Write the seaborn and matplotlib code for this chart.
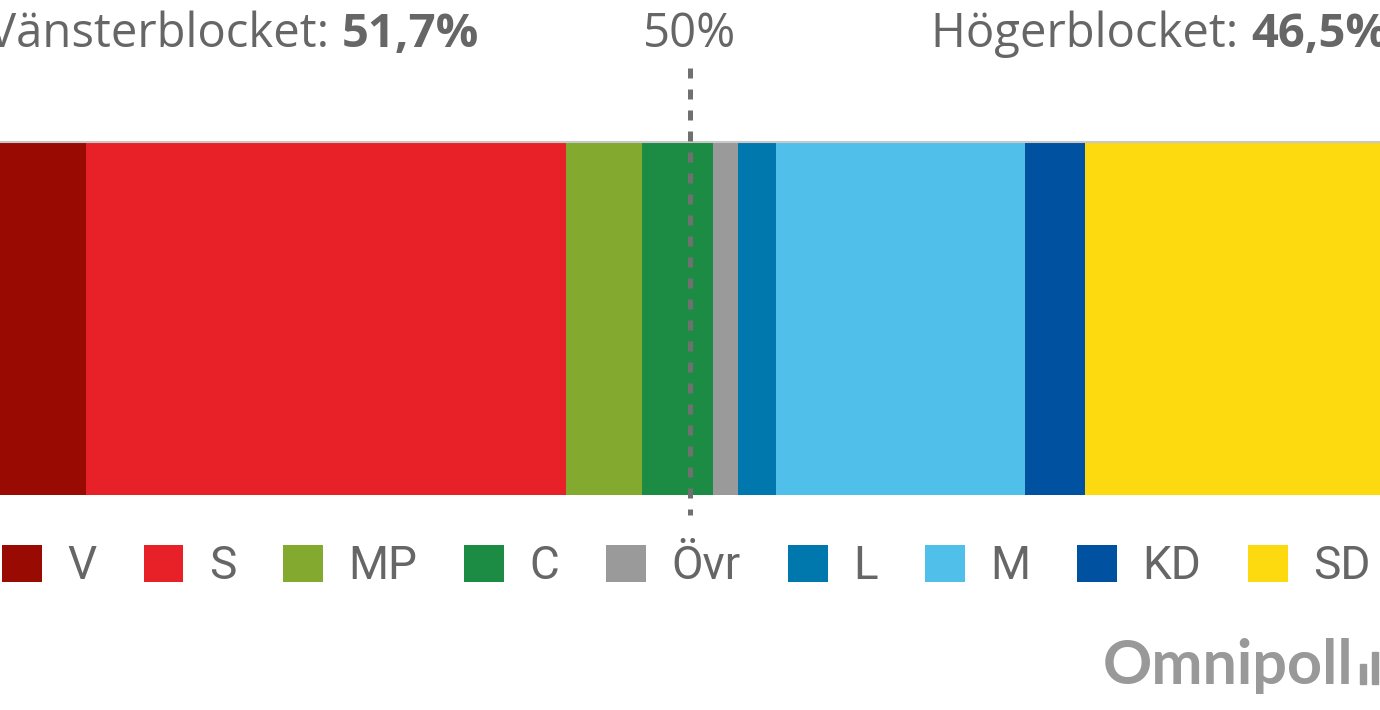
import matplotlib
matplotlib.use("Agg")
import matplotlib.pyplot as plt
from matplotlib.patches import Patch, Rectangle
import seaborn as sns
import pandas as pd

# Data
parties = ["V", "S", "MP", "C", "Övr", "L", "M", "KD", "SD"]
shares = [6.2, 34.8, 5.5, 5.2, 1.8, 2.7, 18.1, 4.3, 21.4]
colors = ["#990a02", "#e82129", "#83aa2e", "#1c8b44", "#9a9a9a",
          "#0078ae", "#50c0eb", "#0051a0", "#fdd90f"]
left_label = "Vänsterblocket: "
left_value = "51,7%"
right_label = "Högerblocket: "
right_value = "46,5%"
majority = 50

df = pd.DataFrame({"party": parties, "share": shares, "color": colors})
df["cum"] = df["share"].cumsum()

sns.set_style("white")
plt.rcParams["font.family"] = ["Roboto", "DejaVu Sans"]
grey = "#666666"
head_font = ["Open Sans", "DejaVu Sans"]
head_size = 34

fig = plt.figure(figsize=(13.8, 7.1), dpi=100)

# Stacked bar: draw cumulative bars from the largest down
bax = fig.add_axes([0, 1 - 495 / 710, 1, (495 - 142) / 710])
for _, row in df.iloc[::-1].iterrows():
    sns.barplot(x=[row["cum"]], y=["bar"], orient="h", color=row["color"],
                saturation=1, width=1, linewidth=0, ax=bax)
bax.set_xlim(0, df["cum"].iloc[-1])
bax.set_ylim(0.5, -0.5)
bax.axis("off")
bax.axhline(-0.5, color="#c8c8c8", lw=1.5, clip_on=False)

# Overlay in pixel coords for text, 50% line and legend
ax = fig.add_axes([0, 0, 1, 1], facecolor="none")
ax.set_xlim(0, 1380)
ax.set_ylim(710, 0)
ax.axis("off")
inv = ax.transData.inverted()

x50 = majority / df["cum"].iloc[-1] * 1380
ax.plot([x50, x50], [68, 515], color="#707070", lw=3.6,
        dashes=(10 / 5, 11 / 5), zorder=5)
ax.text(x50, 47, f"{majority}%", ha="center", va="baseline",
        fontsize=head_size, color=grey, family=head_font)

# Block headlines (regular label + bold value)
t1 = ax.text(-12, 47, left_label, ha="left", va="baseline",
             fontsize=head_size, color=grey, family=head_font)
fig.canvas.draw()
xl = inv.transform((t1.get_window_extent().x1, 0))[0]
ax.text(xl, 47, left_value, ha="left", va="baseline", fontsize=head_size,
        color=grey, fontweight="bold", family=head_font)

t2 = ax.text(1388, 47, right_value, ha="right", va="baseline",
             fontsize=head_size, color=grey, fontweight="bold",
             family=head_font)
fig.canvas.draw()
xr = inv.transform((t2.get_window_extent().x0, 0))[0]
ax.text(xr, 47, right_label, ha="right", va="baseline",
        fontsize=head_size, color=grey, family=head_font)

# Legend
handles = [Patch(facecolor=c, edgecolor="none", label=p)
           for p, c in zip(parties, colors)]
leg = ax.legend(handles=handles, ncol=len(parties), loc="upper left",
                bbox_to_anchor=(2 / 1380, 1 - 544 / 710), frameon=False,
                fontsize=33, handlelength=0.87, handleheight=0.87,
                handletextpad=0.55, columnspacing=1.03, borderpad=0,
                borderaxespad=0)
for t in leg.get_texts():
    t.set_color(grey)

# Omnipoll mark
ax.text(1103, 684, "Omnipoll", ha="left", va="baseline", fontsize=44,
        fontweight="bold", color="#999999", family=["Lato", "DejaVu Sans"])
ax.add_patch(Rectangle((1360, 664), 6, 20, color="#999999"))
ax.add_patch(Rectangle((1372, 652), 6, 32, color="#999999"))

fig.savefig("out.png", dpi=100)
